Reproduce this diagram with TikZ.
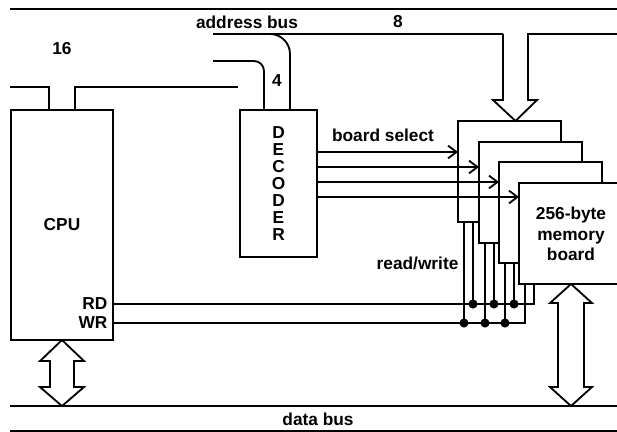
\documentclass[tikz,border=0pt]{standalone}
\usepackage{fontspec}
\setmainfont{Liberation Sans}
\usetikzlibrary{arrows.meta}

\begin{document}
\begin{tikzpicture}[x=0.025cm, y=-0.025cm, line width=1.3pt,
    font=\bfseries\fontsize{12.3}{14.5}\selectfont,
    unit/.style={draw, line width=1.8pt, fill=white, inner sep=0pt, outer sep=0pt},
    board/.style={unit, minimum width=2.575cm, minimum height=2.525cm, anchor=north west},
    sel/.style={-{Straight Barb[length=6pt, width=9pt]}},
    dot/.style={circle, fill, inner sep=0pt, minimum size=6.5pt}]
    \useasboundingbox (0,0) rectangle (617,432);
    \clip (0,0) rectangle (617,432);

    % CPU and decoder
    \node[unit, minimum width=2.55cm, minimum height=5.75cm] (cpu) at (62,225) {CPU};
    \node[anchor=east] (rd) at (cpu.east |- 0,304) {RD};
    \node[anchor=east] (wr) at (cpu.east |- 0,323) {WR};
    \node[unit, minimum width=1.925cm, minimum height=3.675cm, align=center,
        font=\bfseries\fontsize{12.3}{12}\selectfont] (dec) at (278.5,183.5) {D\\E\\C\\O\\D\\E\\R};

    % memory boards, back to front (front one runs off the page)
    \node[board] (mb1) at (458,121) {};
    \node[board] (mb2) at ([shift={(21,21)}]mb1.north west) {};
    \node[board] (mb3) at ([shift={(20,20)}]mb2.north west) {};
    \node[board, minimum width=3cm] (mb4) at ([shift={(20,21)}]mb3.north west) {};
    \node[align=center] (memlbl) at ([shift={(52,51)}]mb4.north west) {256-byte\\memory\\board};

    % address bus
    \draw (10,9) -- (617,9);
    \node (abus) at (247,22) {address bus};
    \node (n8) at (398,22) {8};
    \draw (213,34) -- (503,34);
    \draw[fill=white] (503,34) -- (503,100) -- (493,100) -- ([shift={(6,0)}]mb1.north)
        -- (537,100) -- (528,100) -- (528,34) -- (617,34);
    \node (n16) at (62,49) {16};
    \draw (10,87) -| (cpu.north -| 49,0);
    \draw (cpu.north -| 75,0) |- (238,87);
    % 4 lines to the decoder
    \draw[rounded corners=0.5cm] (213,34) -| (dec.north -| 290,0);
    \draw[rounded corners=0.25cm] (213,61) -| (dec.north -| 264,0);
    \node (n4) at (277,81) {4};

    % board select
    \node (bsel) at (383,135) {board select};
    \draw[sel] (dec.east |- 0,152) -- (mb1.west |- 0,152);
    \draw[sel] (dec.east |- 0,167) -- (mb2.west |- 0,167);
    \draw[sel] (dec.east |- 0,182) -- (mb3.west |- 0,182);
    \draw[sel] (dec.east |- 0,197) -- (mb4.west |- 0,197);

    % read/write
    \node[anchor=east] (rwlbl) at (464,263) {read/write};
    \draw (rd.east) -| ([shift={(15,0)}]mb4.south west);
    \draw (wr.east) -| ([shift={(6,0)}]mb4.south west);
    \foreach \b in {mb1,mb2,mb3}{
        \coordinate (w) at ([shift={(6,0)}]\b.south west);
        \coordinate (r) at ([shift={(15,0)}]\b.south west);
        \draw (w) -- (w |- wr.east) node[dot] {};
        \draw (r) -- (r |- rd.east) node[dot] {};
    }

    % data bus
    \draw (10,406) -- (617,406);
    \draw (10,431) -- (617,431);
    \node (dbus) at (318,419) {data bus};
    \draw[fill=white] (cpu.south) -- ++(22,21) -- ++(-10,0) -- ++(0,26) -- ++(10,0)
        -- ++(-22,19) -- ++(-22,-19) -- ++(10,0) -- ++(0,-26) -- ++(-10,0) -- cycle;
    \draw[fill=white] (memlbl.center |- mb4.south) -- ++(21,19) -- ++(-8,0) -- ++(0,84) -- ++(8,0)
        -- ++(-21,19) -- ++(-21,-19) -- ++(8,0) -- ++(0,-84) -- ++(-8,0) -- cycle;
\end{tikzpicture}
\end{document}
